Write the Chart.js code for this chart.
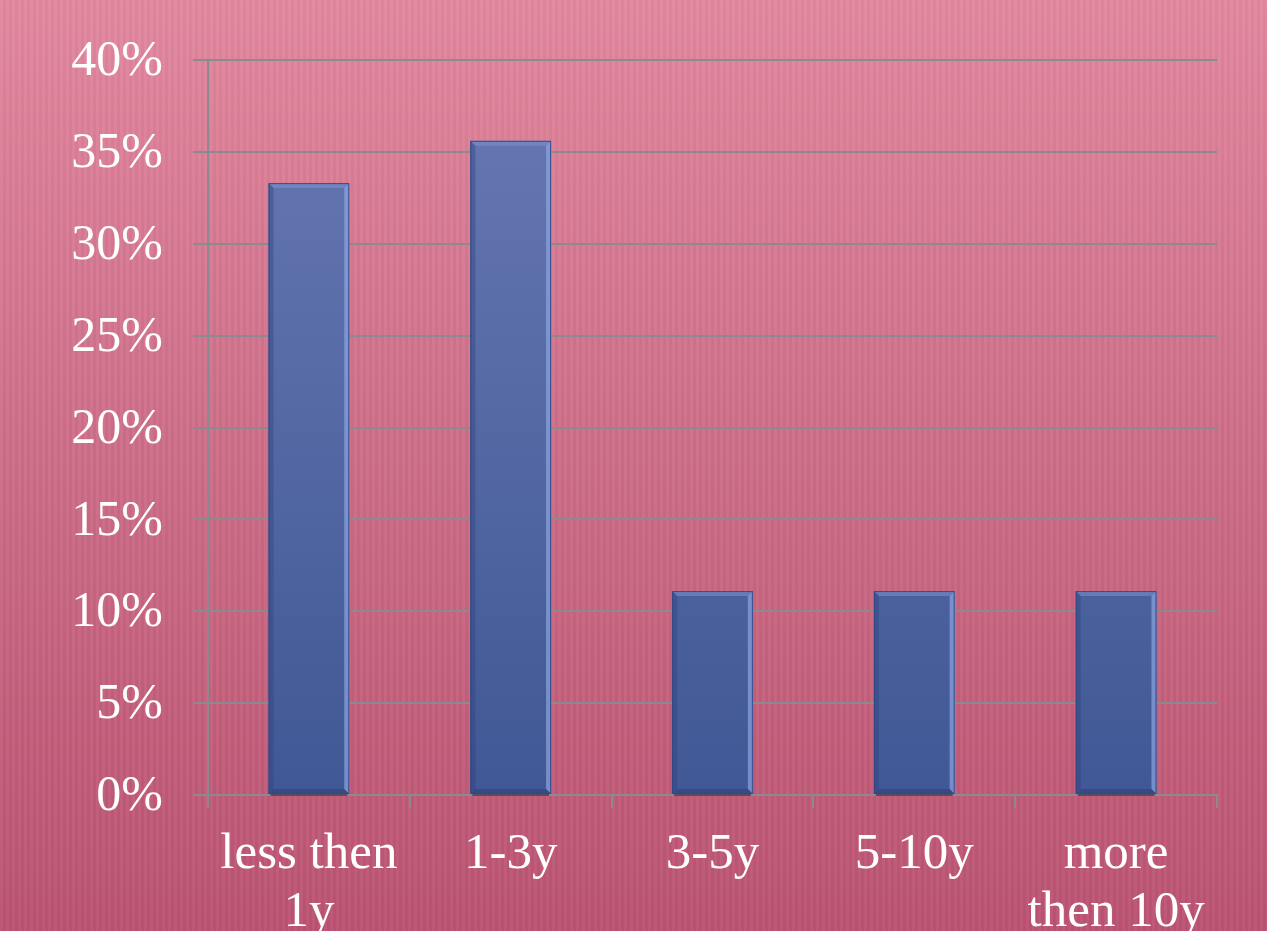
<!DOCTYPE html>
<html>
<head>
<meta charset="utf-8">
<script src="https://cdn.jsdelivr.net/npm/chart.js@4"></script>
<style>
  html, body { margin: 0; padding: 0; }
  body {
    width: 1267px; height: 931px; overflow: hidden;
    background:
      repeating-linear-gradient(90deg, rgba(255,255,255,0.035) 0px, rgba(255,255,255,0.035) 3px, rgba(0,0,0,0.025) 3px, rgba(0,0,0,0.025) 6px),
      linear-gradient(180deg, #e2889f 0%, #cf6f89 45%, #bb5372 100%);
  }
  #wrap { position: absolute; left: 0; top: 0; width: 1267px; height: 931px; }
</style>
</head>
<body>
<div id="wrap"><canvas id="c" width="1267" height="931"></canvas></div>
<script>
// Years of experience: share of respondents per group
const categories = [["less then", "1y"], "1-3y", "3-5y", "5-10y", ["more", "then 10y"]];
const shares = [33.3, 35.6, 11.1, 11.1, 11.1];
const yTicks = [0, 5, 10, 15, 20, 25, 30, 35, 40];

const GRID = '#8c8a8e';
const FONT = "'Liberation Serif', 'Times New Roman', serif";

// Bevelled look for each bar, drawn from the bar elements' own geometry
const bevelPlugin = {
  id: 'bevel',
  afterDatasetsDraw(chart) {
    const ctx = chart.ctx;
    chart.getDatasetMeta(0).data.forEach(bar => {
      const { x, y, base, width } = bar.getProps(['x', 'y', 'base', 'width'], true);
      const l = x - width / 2, r = x + width / 2, t = y, b = base;
      const e = 5;
      ctx.save();
      // shadow under the base
      ctx.fillStyle = 'rgba(45,30,55,0.55)';
      ctx.fillRect(l + 2, b, width - 4, 2);
      // right bevel (light)
      ctx.fillStyle = 'rgba(140,165,225,0.7)';
      ctx.beginPath();
      ctx.moveTo(r, t); ctx.lineTo(r, b); ctx.lineTo(r - e, b - e); ctx.lineTo(r - e, t + e); ctx.closePath();
      ctx.fill();
      // top bevel (light)
      ctx.fillStyle = 'rgba(130,150,210,0.5)';
      ctx.beginPath();
      ctx.moveTo(l, t); ctx.lineTo(r, t); ctx.lineTo(r - e, t + e); ctx.lineTo(l + e, t + e); ctx.closePath();
      ctx.fill();
      // left bevel (dark)
      ctx.fillStyle = 'rgba(45,65,125,0.4)';
      ctx.beginPath();
      ctx.moveTo(l, t); ctx.lineTo(l + e, t + e); ctx.lineTo(l + e, b - e); ctx.lineTo(l, b); ctx.closePath();
      ctx.fill();
      // bottom bevel (dark)
      ctx.fillStyle = 'rgba(40,60,115,0.45)';
      ctx.beginPath();
      ctx.moveTo(l, b); ctx.lineTo(l + e, b - e); ctx.lineTo(r - e, b - e); ctx.lineTo(r, b); ctx.closePath();
      ctx.fill();
      // outline
      ctx.strokeStyle = 'rgba(50,70,130,0.9)';
      ctx.lineWidth = 1;
      ctx.strokeRect(l + 0.5, t + 0.5, width - 1, b - t - 1);
      ctx.restore();
    });
  }
};

function barGradient(context) {
  const chart = context.chart;
  const area = chart.chartArea;
  if (!area) return '#5068a4';
  const yScale = chart.scales.y;
  const el = context.element;
  const top = el && el.y !== undefined ? el.y : area.top;
  const g = chart.ctx.createLinearGradient(0, top, 0, yScale.getPixelForValue(0));
  g.addColorStop(0, '#6879b3');
  g.addColorStop(1, '#405895');
  return g;
}

new Chart(document.getElementById('c'), {
  type: 'bar',
  data: {
    labels: categories,
    datasets: [{
      data: shares,
      backgroundColor: barGradient,
      borderWidth: 0,
      barPercentage: 0.4,
      categoryPercentage: 1.0
    }]
  },
  options: {
    responsive: false,
    animation: false,
    devicePixelRatio: 1,
    layout: { padding: { left: 0, right: 50, top: 59, bottom: 0 } },
    plugins: { legend: { display: false }, tooltip: { enabled: false } },
    scales: {
      x: {
        grid: { display: true, drawOnChartArea: false, drawTicks: true, tickLength: 13, color: GRID, lineWidth: 2, offset: true },
        border: { display: true, color: GRID, width: 2 },
        ticks: {
          color: '#ffffff', padding: 17, maxRotation: 0, autoSkip: false,
          font: { family: FONT, size: 51, lineHeight: 1.15 }
        },
        afterFit(scale) { scale.height = 136; }
      },
      y: {
        min: 0, max: 40,
        afterBuildTicks(scale) { scale.ticks = yTicks.map(v => ({ value: v })); },
        grid: { color: GRID, lineWidth: 2, tickLength: 15, drawTicks: true },
        border: { display: true, color: GRID, width: 2 },
        ticks: {
          color: '#ffffff', padding: 30, labelOffset: 2,
          font: { family: FONT, size: 50 },
          callback: v => v + '%'
        },
        afterFit(scale) { scale.width = 208; }
      }
    }
  },
  plugins: [bevelPlugin]
});
</script>
</body>
</html>
